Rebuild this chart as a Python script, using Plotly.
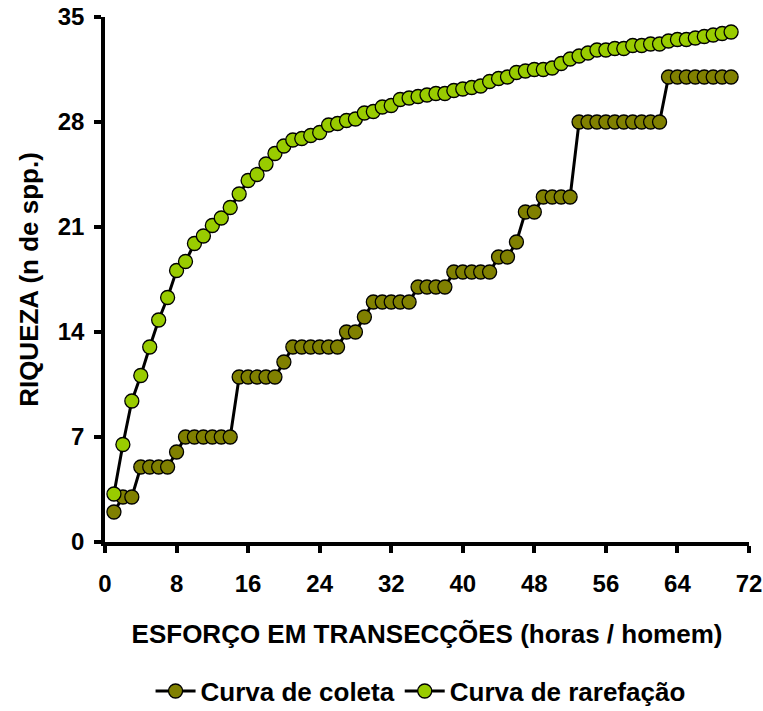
import plotly.graph_objects as go

# Sampling effort (hours / person) for each transect point
esforco = list(range(1, 71))

# Cumulative species observed during collection
curva_coleta = [
    2, 3, 3, 5, 5, 5, 5, 6, 7, 7,
    7, 7, 7, 7, 11, 11, 11, 11, 11, 12,
    13, 13, 13, 13, 13, 13, 14, 14, 15, 16,
    16, 16, 16, 16, 17, 17, 17, 17, 18, 18,
    18, 18, 18, 19, 19, 20, 22, 22, 23, 23,
    23, 23, 28, 28, 28, 28, 28, 28, 28, 28,
    28, 28, 31, 31, 31, 31, 31, 31, 31, 31,
]

# Expected richness from rarefaction
curva_rarefacao = [
    3.2, 6.5, 9.4, 11.1, 13.0, 14.8, 16.3, 18.1, 18.7, 19.9,
    20.4, 21.1, 21.6, 22.3, 23.2, 24.1, 24.5, 25.2, 25.9, 26.4,
    26.8, 26.9, 27.1, 27.3, 27.8, 27.9, 28.1, 28.2, 28.6, 28.7,
    29.0, 29.1, 29.5, 29.6, 29.7, 29.8, 29.9, 29.9, 30.1, 30.2,
    30.3, 30.4, 30.7, 30.9, 31.0, 31.3, 31.4, 31.5, 31.5, 31.6,
    31.9, 32.2, 32.4, 32.6, 32.8, 32.8, 32.9, 32.9, 33.1, 33.1,
    33.2, 33.2, 33.4, 33.5, 33.5, 33.6, 33.7, 33.8, 33.9, 34.0,
]

x_ticks = [0, 8, 16, 24, 32, 40, 48, 56, 64, 72]
y_ticks = [0, 7, 14, 21, 28, 35]

FONT = "Liberation Sans, Arial, sans-serif"

fig = go.Figure()
fig.add_trace(go.Scatter(
    x=esforco, y=curva_coleta, name="Curva de coleta",
    mode="lines+markers",
    line=dict(color="black", width=3),
    marker=dict(size=14, color="#808000", line=dict(color="black", width=1.3)),
))
fig.add_trace(go.Scatter(
    x=esforco, y=curva_rarefacao, name="Curva de rarefação",
    mode="lines+markers",
    line=dict(color="black", width=3),
    marker=dict(size=14, color="#99CC00", line=dict(color="black", width=1.3)),
))

axis_common = dict(
    showgrid=False, zeroline=False, automargin=False,
    showline=True, linecolor="black", linewidth=3.5,
    ticks="outside", ticklen=7, tickwidth=3.5, tickcolor="black",
    tickfont=dict(family=FONT, size=24, color="black", weight="bold"),
)

fig.update_layout(
    width=763, height=711,
    margin=dict(l=105, r=14, t=17, b=169, autoexpand=False),
    paper_bgcolor="white", plot_bgcolor="white",
    font=dict(family=FONT, color="black"),
    xaxis=dict(
        range=[0, 72], tickvals=x_ticks, ticktext=[str(v) for v in x_ticks],
        ticklabelstandoff=10,
        title=dict(text="ESFORÇO EM TRANSECÇÕES (horas / homem)",
                   font=dict(family=FONT, size=26, color="black", weight="bold"),
                   standoff=30),
        **axis_common,
    ),
    yaxis=dict(
        range=[0, 35], tickvals=y_ticks, ticktext=[str(v) for v in y_ticks],
        ticklabelstandoff=5,
        title=dict(text="RIQUEZA (n de spp.)",
                   font=dict(family=FONT, size=26, color="black", weight="bold"),
                   standoff=13),
        **axis_common,
    ),
    showlegend=True,
    legend=dict(
        orientation="h", x=0.49, xanchor="center", y=-0.284, yanchor="middle",
        font=dict(family=FONT, size=26, color="black", weight="bold"),
        bgcolor="rgba(0,0,0,0)", itemwidth=40,
    ),
)

fig.write_html("out.html")
